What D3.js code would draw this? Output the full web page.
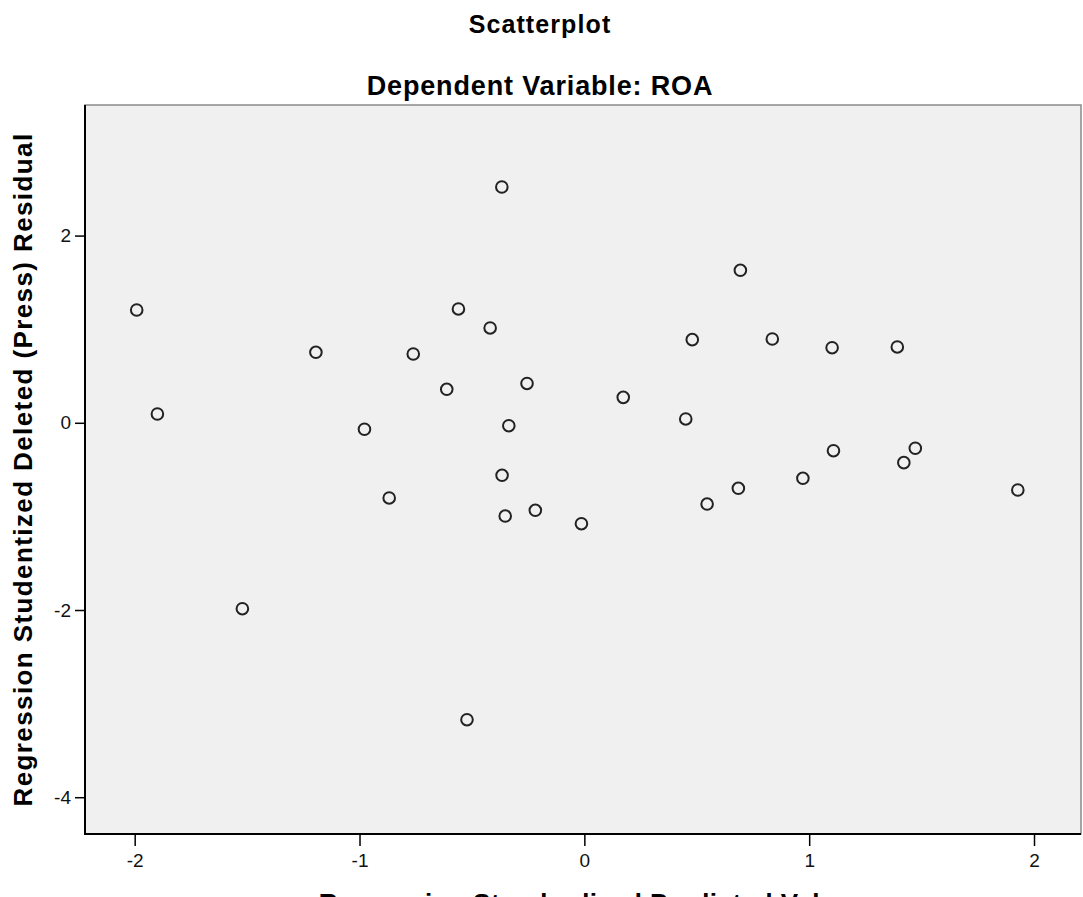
<!DOCTYPE html>
<html>
<head>
<meta charset="utf-8">
<script src="https://cdn.jsdelivr.net/npm/d3@7/dist/d3.min.js"></script>
<style>
  html, body { margin: 0; padding: 0; background: #ffffff; }
  svg { display: block; }
</style>
</head>
<body>
<svg id="chart" width="1083" height="897"></svg>
<script>
// ---- data ----
const predictedValues = [
  -1.991, -1.899, -1.521, -1.194, -0.978, -0.868, -0.761, -0.612,
  -0.560, -0.522, -0.419, -0.367, -0.366, -0.352, -0.336, -0.255,
  -0.218, -0.013, 0.173, 0.451, 0.480, 0.546, 0.685, 0.694,
  0.836, 0.972, 1.102, 1.108, 1.392, 1.421, 1.472, 1.928
];
const residualValues = [
  1.205, 0.094, -1.986, 0.753, -0.069, -0.803, 0.735, 0.358,
  1.216, -3.172, 1.013, 2.519, -0.561, -0.996, -0.031, 0.420,
  -0.935, -1.078, 0.272, 0.041, 0.888, -0.868, -0.700, 1.629,
  0.895, -0.593, 0.802, -0.298, 0.810, -0.426, -0.272, -0.718
];
const xTicks = [-2, -1, 0, 1, 2];
const yTicks = [-4, -2, 0, 2];
const xDomain = [-2.221, 2.209];
const yDomain = [-4.393, 3.395];
const titleText = "Scatterplot";
const subtitleText = "Dependent Variable: ROA";
const xLabelText = "Regression Standardized Predicted Value";
const yLabelText = "Regression Studentized Deleted (Press) Residual";

// ---- layout ----
const plot = { left: 85, right: 1081, top: 105, bottom: 834 };
const svg = d3.select("#chart");
const font = "'Liberation Sans', Arial, Helvetica, sans-serif";

const x = d3.scaleLinear().domain(xDomain).range([plot.left, plot.right]);
const y = d3.scaleLinear().domain(yDomain).range([plot.bottom, plot.top]);

// plot background
svg.append("rect")
  .attr("x", plot.left).attr("y", plot.top)
  .attr("width", plot.right - plot.left)
  .attr("height", plot.bottom - plot.top)
  .attr("fill", "#f0f0f0")
  .attr("stroke", "#8a8a8a")
  .attr("stroke-width", 1.5);

// titles
svg.append("text")
  .attr("x", 540).attr("y", 32.5)
  .attr("text-anchor", "middle")
  .attr("font-family", font).attr("font-weight", "bold")
  .attr("font-size", 25).attr("letter-spacing", 1.1)
  .attr("fill", "#000")
  .text(titleText);

svg.append("text")
  .attr("x", 540).attr("y", 95)
  .attr("text-anchor", "middle")
  .attr("font-family", font).attr("font-weight", "bold")
  .attr("font-size", 27).attr("letter-spacing", 0.85)
  .attr("fill", "#000")
  .text(subtitleText);

// axes
const xAxis = d3.axisBottom(x).tickValues(xTicks).tickSize(12).tickPadding(8)
  .tickFormat(d => String(d).replace("\u2212", "-"));
const yAxis = d3.axisLeft(y).tickValues(yTicks).tickSize(10).tickPadding(4)
  .tickFormat(d => String(d).replace("\u2212", "-"));

const gx = svg.append("g")
  .attr("transform", `translate(0,${plot.bottom})`)
  .call(xAxis);
const gy = svg.append("g")
  .attr("transform", `translate(${plot.left},0)`)
  .call(yAxis);

[gx, gy].forEach(g => {
  g.select(".domain").remove();
  g.selectAll(".tick line").attr("stroke", "#000").attr("stroke-width", 1.5);
  g.selectAll(".tick text")
    .attr("font-family", font)
    .attr("font-size", 19)
    .attr("fill", "#111");
});

// axis lines (left & bottom)
svg.append("line")
  .attr("x1", plot.left).attr("x2", plot.left)
  .attr("y1", plot.top).attr("y2", plot.bottom + 1)
  .attr("stroke", "#000").attr("stroke-width", 2);
svg.append("line")
  .attr("x1", plot.left - 1).attr("x2", plot.right)
  .attr("y1", plot.bottom).attr("y2", plot.bottom)
  .attr("stroke", "#000").attr("stroke-width", 2);

// points
svg.append("g")
  .selectAll("circle")
  .data(predictedValues.map((v, i) => ({ px: v, ry: residualValues[i] })))
  .join("circle")
  .attr("cx", d => x(d.px))
  .attr("cy", d => y(d.ry))
  .attr("r", 5.8)
  .attr("fill", "none")
  .attr("stroke", "#222")
  .attr("stroke-width", 2);

// axis titles
svg.append("text")
  .attr("x", 585).attr("y", 912)
  .attr("text-anchor", "middle")
  .attr("font-family", font).attr("font-weight", "bold")
  .attr("font-size", 26).attr("letter-spacing", 0.5)
  .attr("fill", "#000")
  .text(xLabelText);

svg.append("text")
  .attr("transform", `translate(32,${(plot.top + plot.bottom) / 2}) rotate(-90)`)
  .attr("text-anchor", "middle")
  .attr("font-family", font).attr("font-weight", "bold")
  .attr("font-size", 26).attr("letter-spacing", 1.4)
  .attr("fill", "#000")
  .text(yLabelText);
</script>
</body>
</html>
